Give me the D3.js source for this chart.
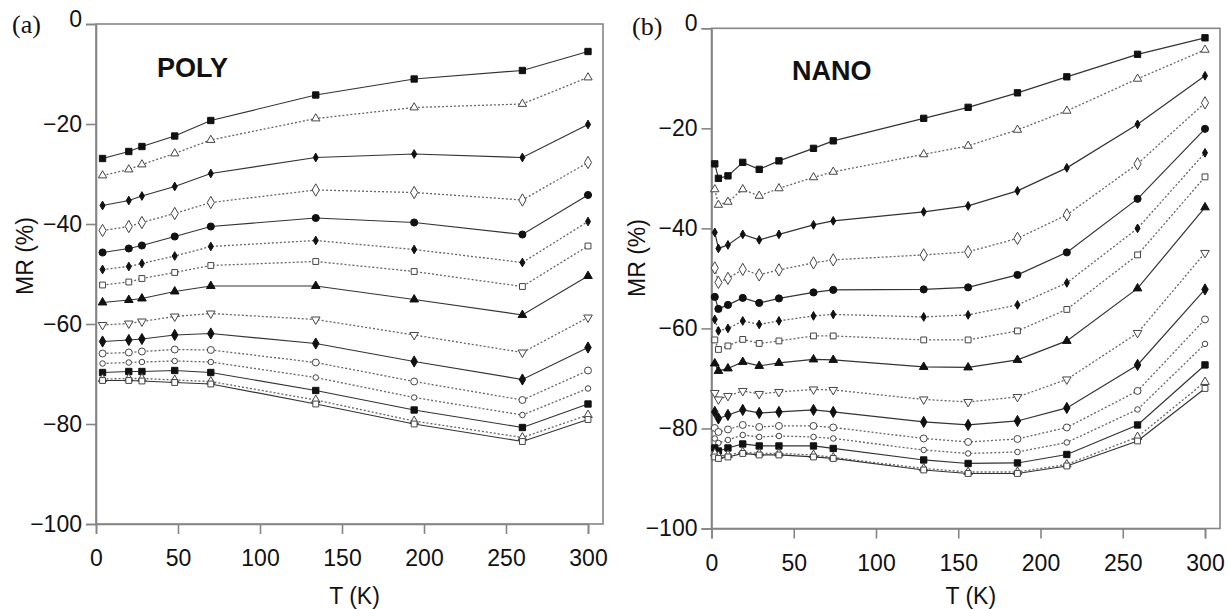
<!DOCTYPE html>
<html>
<head>
<meta charset="utf-8">
<script src="https://cdn.jsdelivr.net/npm/d3@7"></script>
<style>
  body { margin: 0; background: #fff; }
  svg { display: block; }
  text { font-family: "Liberation Sans", Arial, sans-serif; }
</style>
</head>
<body>
<div class="chart"></div>
<script>
// temperatures (K)
const polyT = [4, 20, 28, 48, 70, 134, 194, 260, 300];
const nanoT = [2, 4.2, 10, 19, 29, 41, 62, 74, 129, 156, 186, 216, 259, 300];

// MR (%) per field curve, top to bottom
const polyMR = [
  [-26.9, -25.5, -24.5, -22.4, -19.3, -14.2, -11.0, -9.3, -5.5],
  [-30.3, -29.1, -28.1, -25.9, -23.2, -18.9, -16.7, -16.0, -10.7],
  [-36.3, -35.3, -34.4, -32.5, -29.9, -26.7, -26.0, -26.7, -20.1],
  [-41.3, -40.5, -39.7, -37.9, -35.7, -33.2, -33.7, -35.2, -27.7],
  [-45.7, -44.9, -44.3, -42.5, -40.5, -38.8, -39.7, -42.1, -34.2],
  [-49.1, -48.5, -47.9, -46.4, -44.5, -43.3, -45.1, -47.7, -39.5],
  [-52.2, -51.6, -50.9, -49.7, -48.3, -47.5, -49.5, -52.5, -44.4],
  [-55.7, -55.2, -54.9, -53.5, -52.4, -52.4, -55.1, -58.2, -50.4],
  [-60.2, -59.9, -59.5, -58.5, -57.9, -59.1, -62.2, -65.7, -58.7],
  [-63.5, -63.2, -63.0, -62.2, -61.9, -63.9, -67.5, -71.1, -64.7],
  [-65.9, -65.7, -65.5, -65.1, -65.2, -67.7, -71.5, -75.2, -69.3],
  [-67.9, -67.7, -67.6, -67.4, -67.6, -70.7, -74.7, -78.2, -72.9],
  [-69.7, -69.5, -69.5, -69.3, -69.7, -73.3, -77.2, -80.7, -76.0],
  [-71.0, -70.9, -70.9, -71.2, -71.5, -75.2, -79.4, -82.7, -78.2],
  [-71.3, -71.3, -71.4, -71.7, -72.0, -76.0, -80.0, -83.5, -79.1]
];

const nanoMR = [
  [-27.1, -30.0, -29.5, -26.8, -28.2, -26.5, -24.0, -22.5, -18.0, -15.8, -12.9, -9.7, -5.2, -1.9],
  [-32.2, -35.3, -34.7, -32.2, -33.5, -32.0, -29.8, -28.7, -25.2, -23.5, -20.3, -16.5, -10.1, -4.3],
  [-40.8, -44.0, -43.3, -41.2, -42.3, -41.2, -39.3, -38.5, -36.7, -35.5, -32.5, -27.9, -19.2, -9.5],
  [-47.9, -50.8, -50.0, -48.2, -49.3, -48.3, -46.9, -46.3, -45.3, -44.7, -42.0, -37.3, -27.1, -14.9],
  [-53.7, -56.1, -55.3, -53.9, -54.9, -54.0, -52.8, -52.3, -52.2, -51.8, -49.3, -44.8, -34.1, -20.1],
  [-58.2, -60.5, -60.0, -58.5, -59.2, -58.5, -57.5, -57.2, -57.7, -57.3, -55.3, -50.9, -40.0, -24.9],
  [-62.3, -64.2, -63.5, -62.2, -63.0, -62.5, -61.5, -61.5, -62.3, -62.3, -60.5, -56.2, -45.3, -29.7],
  [-67.0, -68.5, -68.0, -66.7, -67.5, -66.9, -66.2, -66.3, -67.7, -67.8, -66.3, -62.5, -52.0, -35.8],
  [-72.9, -74.2, -73.5, -72.5, -73.1, -72.7, -72.2, -72.3, -74.2, -74.7, -73.7, -70.2, -60.9, -44.9],
  [-76.7, -78.0, -77.3, -76.3, -76.9, -76.7, -76.3, -76.7, -78.7, -79.3, -78.5, -75.9, -67.3, -52.2],
  [-79.9, -80.7, -80.2, -79.3, -79.7, -79.5, -79.5, -79.8, -82.0, -82.7, -82.1, -79.8, -72.5, -58.2],
  [-82.0, -82.9, -82.3, -81.3, -81.7, -81.5, -81.7, -82.0, -84.3, -85.0, -84.7, -82.8, -76.2, -63.1],
  [-83.9, -84.5, -83.9, -83.1, -83.5, -83.5, -83.5, -84.0, -86.3, -87.0, -86.9, -85.2, -79.3, -67.3],
  [-85.0, -85.5, -85.3, -84.7, -85.0, -85.0, -85.3, -85.8, -88.0, -88.7, -88.7, -87.2, -81.7, -70.7],
  [-85.7, -86.0, -85.7, -85.0, -85.3, -85.3, -85.7, -86.0, -88.3, -89.0, -89.0, -87.5, -82.5, -72.0]
];

const xTicks = [0, 50, 100, 150, 200, 250, 300];
const yTicks = [-100, -80, -60, -40, -20, 0];

// marker / line style for each curve
const styles = [
  {sym: d3.symbolSquare,   size: 40, fill: true,  dash: false},
  {sym: d3.symbolTriangle, size: 30, fill: false, dash: true},
  {sym: d3.symbolDiamond,  size: 22, fill: true,  dash: false},
  {sym: d3.symbolDiamond,  size: 44, fill: false, dash: true},
  {sym: d3.symbolCircle,   size: 40, fill: true,  dash: false},
  {sym: d3.symbolDiamond,  size: 22, fill: true,  dash: true},
  {sym: d3.symbolSquare,   size: 34, fill: false, dash: true},
  {sym: d3.symbolTriangle, size: 32, fill: true,  dash: false},
  {sym: d3.symbolTriangle, size: 32, fill: false, dash: true, flip: true},
  {sym: d3.symbolDiamond,  size: 36, fill: true,  dash: false},
  {sym: d3.symbolCircle,   size: 38, fill: false, dash: true},
  {sym: d3.symbolCircle,   size: 24, fill: false, dash: true},
  {sym: d3.symbolSquare,   size: 40, fill: true,  dash: false},
  {sym: d3.symbolTriangle, size: 32, fill: false, dash: true},
  {sym: d3.symbolSquare,   size: 34, fill: false, dash: false}
];

var svg = d3.select(".chart").append("svg")
  .attr("width", 1228)
  .attr("height", 609);

function panel(T, MR, box, tag, name, namePos) {
  var x = d3.scaleLinear().domain([0, 300]).range([box.x0, box.x300]);
  var y = d3.scaleLinear().domain([-100, 0]).range([box.yBot, box.yTop]);
  var g = svg.append("g");

  // frame
  g.append("rect")
    .attr("x", box.x0).attr("y", box.yTop)
    .attr("width", box.right - box.x0).attr("height", box.yBot - box.yTop)
    .attr("fill", "none").attr("stroke", "#858585").attr("stroke-width", 1.6);

  var yAxis = g.append("g")
    .attr("transform", "translate(" + box.x0 + ",0)")
    .call(d3.axisLeft(y).tickValues(yTicks).tickSize(10).tickPadding(4)
      .tickFormat(d => d < 0 ? "\u2212" + Math.abs(d) : d));
  var xAxis = g.append("g")
    .attr("transform", "translate(0," + box.yBot + ")")
    .call(d3.axisBottom(x).tickValues(xTicks).tickSize(10).tickPadding(16));
  [xAxis, yAxis].forEach(a => {
    a.select(".domain").attr("stroke", "#858585").attr("stroke-width", 1.6);
    a.selectAll(".tick line").attr("stroke", "#858585").attr("stroke-width", 1.6);
    a.selectAll(".tick text")
      .attr("fill", "#111")
      .style("font-size", "23px")
      .style("font-family", "'Liberation Sans', Arial, sans-serif");
  });
  // the "0" label sits a little above the top edge
  yAxis.selectAll(".tick").filter(d => d === 0).select("text").attr("dy", "0.1em");

  var line = d3.line().x((d, i) => x(T[i])).y(d => y(d));

  MR.forEach((row, k) => {
    var st = styles[k];
    g.append("path")
      .attr("d", line(row))
      .attr("fill", "none")
      .attr("stroke", st.dash ? "#666" : "#333")
      .attr("stroke-width", st.dash ? 1.3 : 1.2)
      .attr("stroke-dasharray", st.dash ? "2,2" : null);
    var sym = d3.symbol().type(st.sym).size(st.size);
    g.selectAll(null)
      .data(row)
      .enter().append("path")
      .attr("d", sym)
      .attr("transform", (d, i) => "translate(" + x(T[i]) + "," + y(d) + ")" + (st.flip ? " rotate(180)" : ""))
      .attr("fill", st.fill ? "#111" : "#fff")
      .attr("stroke", st.fill ? "#111" : "#444")
      .attr("stroke-width", 1);
  });

  g.append("text")
    .attr("x", box.tagX).attr("y", box.tagY)
    .style("font-family", "'Liberation Serif', 'Times New Roman', serif")
    .style("font-size", "26px")
    .attr("fill", "#111")
    .text(tag);

  g.append("text")
    .attr("x", namePos[0]).attr("y", namePos[1])
    .style("font-size", "27px").style("font-weight", "bold")
    .attr("fill", "#111")
    .text(name);

  g.append("text")
    .attr("transform", "translate(" + box.yLabX + "," + box.yLabY + ") rotate(-90)")
    .attr("text-anchor", "middle")
    .style("font-size", "23px")
    .attr("fill", "#111")
    .text("MR (%)");

  g.append("text")
    .attr("x", (box.x0 + box.right) / 2 + 5).attr("y", 604)
    .attr("text-anchor", "middle")
    .style("font-size", "23px")
    .attr("fill", "#111")
    .text("T (K)");
}

panel(polyT, polyMR,
  {x0: 96, x300: 588, right: 603, yTop: 24, yBot: 524, tagX: 12, tagY: 33, yLabX: 33, yLabY: 256},
  "(a)", "POLY", [157, 77]);
panel(nanoT, nanoMR,
  {x0: 711.5, x300: 1205, right: 1220, yTop: 28.3, yBot: 528.5, tagX: 632, tagY: 35, yLabX: 645, yLabY: 258},
  "(b)", "NANO", [792, 80]);
</script>
</body>
</html>
